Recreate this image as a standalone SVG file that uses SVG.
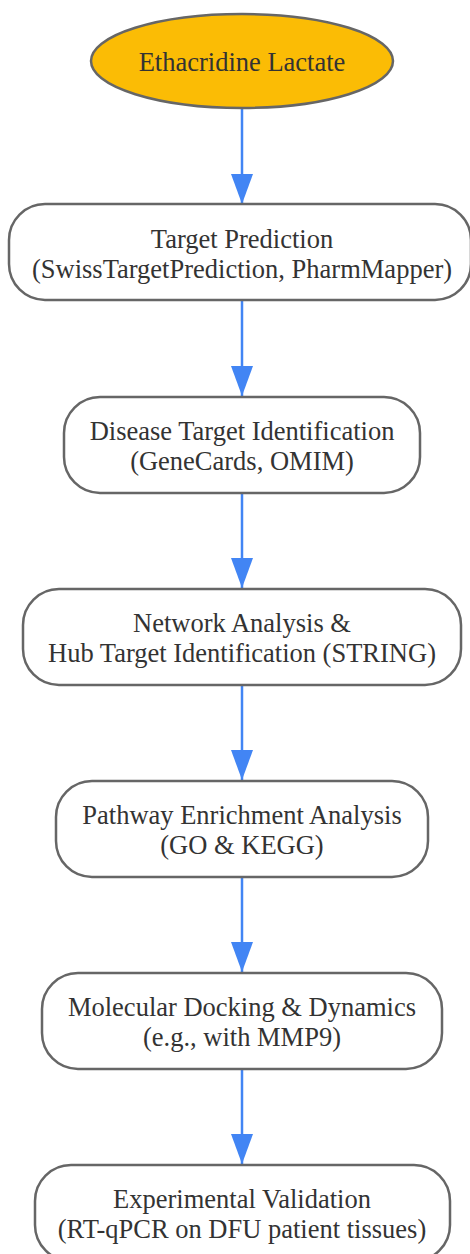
<svg xmlns="http://www.w3.org/2000/svg" width="470" height="1254" viewBox="0 0 470 1254">
<defs>
<style>
.n{fill:#fff;stroke:#666;stroke-width:2.5}
.s{fill:#FBBC05;stroke:#666;stroke-width:2.5}
.t{font-family:"Liberation Serif","Times New Roman",serif;font-size:26.5px;fill:#333;text-anchor:middle}
.e{stroke:#4285F4;stroke-width:2.5;fill:none;marker-end:url(#a)}
</style>
<marker id="a" markerUnits="userSpaceOnUse" markerWidth="32" markerHeight="24" refX="30" refY="11" orient="auto" viewBox="0 0 32 24">
<path d="M0,0 L30,11 L0,22 Z" fill="#4285F4"/>
</marker>
</defs>
<g id="edges">
<path class="e" d="M242,109 V204"/>
<path class="e" d="M242,301 V396"/>
<path class="e" d="M242,493 V588"/>
<path class="e" d="M242,685 V780"/>
<path class="e" d="M242,877 V972"/>
<path class="e" d="M242,1069 V1164"/>
</g>
<g id="n0"><ellipse class="s" cx="242" cy="61" rx="151" ry="47"/><text class="t" x="242" y="71">Ethacridine Lactate</text></g>
<g id="n1"><rect class="n" x="9" y="204" width="462" height="96" rx="36"/><text class="t" x="242" y="248">Target Prediction</text><text class="t" x="242" y="278">(SwissTargetPrediction, PharmMapper)</text></g>
<g id="n2"><rect class="n" x="64" y="397" width="356" height="96" rx="36"/><text class="t" x="242" y="440">Disease Target Identification</text><text class="t" x="242" y="470">(GeneCards, OMIM)</text></g>
<g id="n3"><rect class="n" x="23" y="589" width="438" height="96" rx="36"/><text class="t" x="242" y="632">Network Analysis &amp;</text><text class="t" x="242" y="662">Hub Target Identification (STRING)</text></g>
<g id="n4"><rect class="n" x="56" y="781" width="372" height="96" rx="36"/><text class="t" x="242" y="824">Pathway Enrichment Analysis</text><text class="t" x="242" y="854">(GO &amp; KEGG)</text></g>
<g id="n5"><rect class="n" x="42" y="973" width="400" height="96" rx="36"/><text class="t" x="242" y="1016">Molecular Docking &amp; Dynamics</text><text class="t" x="242" y="1046">(e.g., with MMP9)</text></g>
<g id="n6"><rect class="n" x="35" y="1165" width="415" height="96" rx="36"/><text class="t" x="242" y="1208">Experimental Validation</text><text class="t" x="242" y="1238">(RT-qPCR on DFU patient tissues)</text></g>
</svg>
